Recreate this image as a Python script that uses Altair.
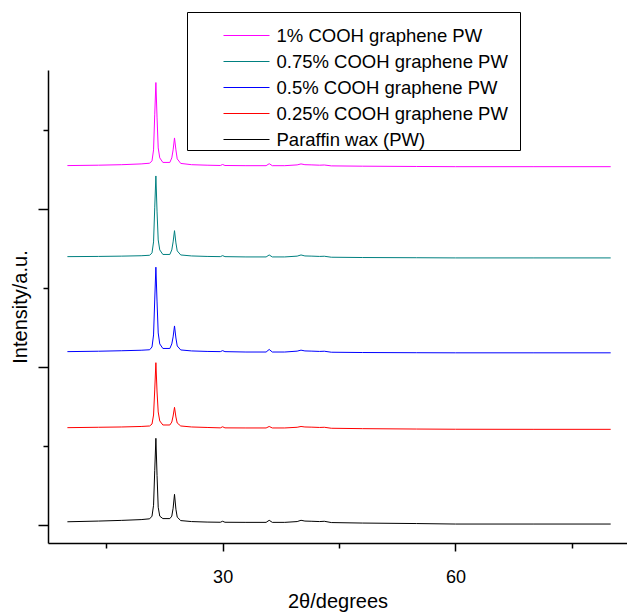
import altair as alt
import pandas as pd

# 2-theta positions (degrees) at which the traces were read
two_theta = [10, 14, 17, 19.5, 20.6, 20.9, 21.1, 21.25, 21.4, 21.55,
             21.7, 21.9, 22.3, 23.2, 23.45, 23.62, 23.8, 23.98, 24.15, 24.6,
             26, 28, 29.7, 30.0, 30.3, 33, 35.6, 36.0, 36.4, 38,
             39.6, 40.1, 40.6, 41.5, 42.5, 43.1, 44, 48, 55, 60,
             70, 80]

# stacked (offset) intensities, arbitrary units
pw = [3.3, 4.0, 4.7, 5.5, 6.3, 9, 20, 55, 87.8, 50,
      18, 9, 6.5, 6.5, 9, 17, 31.1, 16, 8, 4.5,
      3.5, 3.0, 2.8, 3.8, 2.8, 2.7, 2.7, 4.8, 2.7, 2.7,
      3.5, 4.8, 4.0, 3.8, 3.5, 3.8, 2.5, 2.0, 1.5, 1.0,
      1.0, 1.0]
g025 = [98.6, 99.0, 99.3, 99.8, 100.3, 102.3, 111.4, 136.8, 164.4, 134.7,
        114.5, 105.4, 101.3, 101.3, 104.3, 110.4, 119.2, 109.4, 103.3, 100.3,
        99.3, 98.8, 98.4, 99.5, 98.4, 98.3, 98.3, 99.8, 98.3, 98.3,
        99.0, 99.8, 99.3, 99.1, 98.8, 99.0, 98.0, 97.6, 97.2, 97.0,
        96.9, 96.9]
g05 = [175.6, 176.0, 176.5, 177.0, 177.5, 180.3, 192.5, 227.9, 261.1, 225.9,
       194.5, 183.4, 178.8, 178.8, 183.4, 190.5, 201.6, 189.4, 181.3, 177.3,
       176.3, 175.8, 175.6, 176.6, 175.6, 175.2, 175.2, 177.8, 175.2, 175.2,
       176.1, 177.1, 176.3, 176.1, 175.8, 176.0, 175.0, 174.7, 174.5, 174.4,
       174.4, 174.4]
g075 = [271.8, 272.0, 272.3, 272.7, 273.2, 275.6, 286.7, 321.2, 353.5, 317.1,
        288.7, 278.6, 274.0, 274.0, 278.6, 286.7, 298.1, 285.7, 277.6, 273.5,
        272.5, 272.0, 271.8, 272.8, 271.8, 271.5, 271.5, 273.5, 271.5, 271.5,
        272.3, 273.5, 272.5, 272.3, 272.0, 272.2, 271.2, 270.9, 270.7, 270.5,
        270.5, 270.5]
g1 = [364.0, 364.4, 364.9, 365.7, 366.4, 368.8, 379.9, 415.4, 448.1, 412.3,
      381.9, 371.8, 367.2, 367.2, 371.8, 379.9, 392.0, 379.9, 370.8, 366.2,
      364.9, 364.4, 364.1, 365.1, 364.1, 363.9, 363.9, 365.9, 363.9, 363.9,
      364.7, 365.7, 364.9, 364.7, 364.4, 364.6, 363.7, 363.4, 363.1, 362.9,
      362.9, 362.9]

series_names = ["1% COOH graphene PW", "0.75% COOH graphene PW",
                "0.5% COOH graphene PW", "0.25% COOH graphene PW",
                "Paraffin wax (PW)"]
series_values = [g1, g075, g05, g025, pw]
series_colors = ["#FF00FF", "#008080", "#0000FF", "#FF0000", "#000000"]

x_ticks = [15, 30, 45, 60, 75]
y_ticks = [0, 80, 160, 240, 320, 400]

rows = []
for name, vals in zip(series_names, series_values):
    for xv, yv in zip(two_theta, vals):
        rows.append({"two_theta": xv, "intensity": yv, "sample": name})
df = pd.DataFrame(rows)

FONT = "Liberation Sans"

legend = alt.Legend(
    orient="none", legendX=139, legendY=-58,
    title="\u00a0", titleFont=FONT, titleFontSize=8, titlePadding=5.5,
    labelFont=FONT, labelFontSize=18.5, labelLimit=2000, labelColor="black",
    # two trailing no-break spaces (kept by a zero-width space) widen the frame
    labelExpr="datum.label + '\u00a0\u00a0\u200b'",
    symbolType="stroke", symbolSize=2116, symbolStrokeWidth=1,
    symbolOffset=35, labelOffset=6.5,
    clipHeight=18, padding=1, rowPadding=7,
    strokeColor="black", fillColor="white",
)

chart = alt.Chart(df).mark_line(strokeWidth=1).encode(
    x=alt.X("two_theta:Q",
            scale=alt.Scale(domain=[7.5, 82.1], nice=False, zero=False),
            axis=alt.Axis(values=x_ticks, grid=False, title="2θ/degrees",
                          labelExpr="datum.value % 30 == 0 ? datum.label : ''",
                          tickSize={"condition": {"test": "datum.value % 30 === 0", "value": 8}, "value": 5},
                          labelPadding=17, titlePadding=5)),
    y=alt.Y("intensity:Q",
            scale=alt.Scale(domain=[-18.2, 460.8], nice=False, zero=False),
            axis=alt.Axis(values=y_ticks, grid=False, labels=False,
                          title="Intensity/a.u.",
                          tickSize={"condition": {"test": "datum.value % 160 === 0", "value": 10}, "value": 5},
                          titlePadding=7)),
    color=alt.Color("sample:N",
                    scale=alt.Scale(domain=series_names, range=series_colors),
                    legend=legend),
    detail="sample:N",
).properties(
    width=579, height=473,
    autosize=alt.AutoSizeParams(type="none"),
    padding={"left": 48, "top": 70, "right": 0, "bottom": 71},
).configure_view(stroke=None).configure_axis(
    domainColor="black", domainWidth=1.5, tickColor="black", tickWidth=1.5,
    labelFont=FONT, labelFontSize=18, labelColor="black",
    titleFont=FONT, titleFontSize=20, titleFontWeight="normal", titleColor="black",
)

chart.save("out.html", embed_options={"renderer": "svg", "actions": False})
